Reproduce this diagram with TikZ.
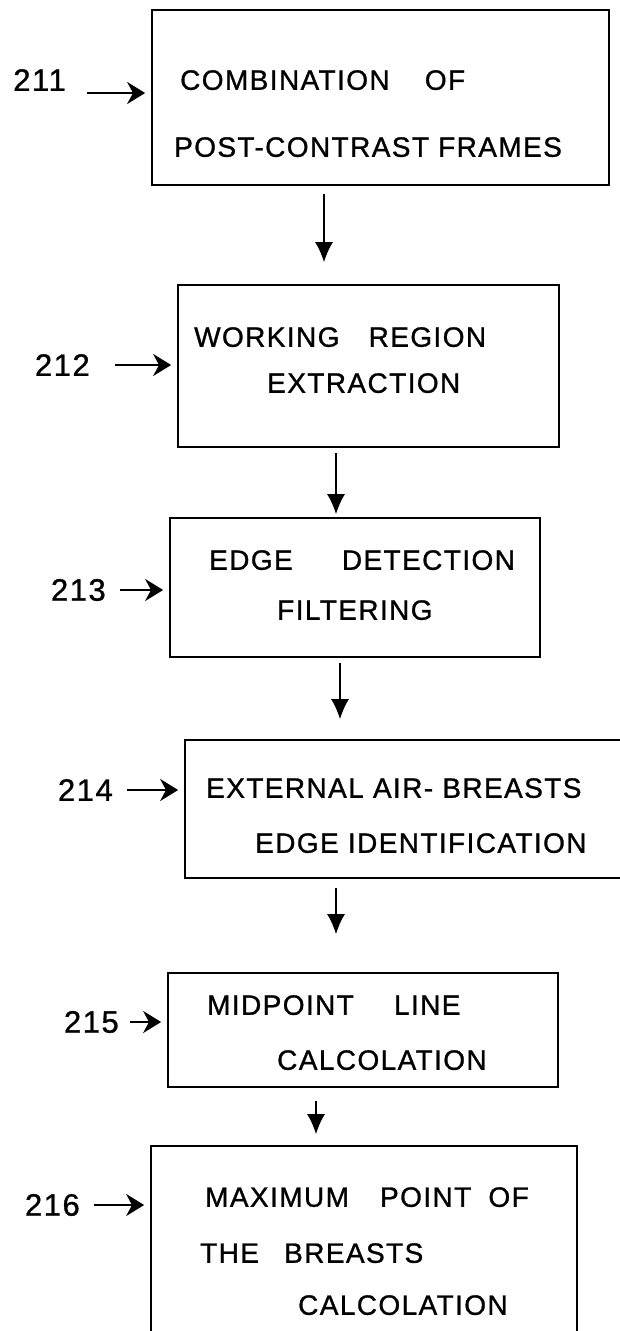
\documentclass[tikz,border=0pt]{standalone}
\usepackage{fontspec}
\setmainfont{Liberation Sans}[LetterSpace=5, FakeBold=1]
\usetikzlibrary{arrows.meta}

\begin{document}
\begin{tikzpicture}[
        x=1pt, y=-1pt,
        stepbox/.style={rectangle, draw, line width=1.7pt, inner sep=0pt},
        steptext/.style={anchor=north west, align=left, inner sep=0pt, font=\fontsize{28}{34}\selectfont},
        refnum/.style={anchor=east, inner sep=0pt, font=\fontsize{31}{36}\selectfont},
        flow/.style={-{Latex[length=20pt, width=18pt]}, line width=1.5pt},
        tag/.style={-{Stealth[length=18pt, width=22pt]}, line width=2.2pt, shorten <=15pt, shorten >=6pt}
    ]
        \useasboundingbox (0,0) rectangle (620,1331);

        % Boxes
        \node (b1) [stepbox, minimum width=457pt, minimum height=175pt] at (380.5,97.5) {};
        \node (b2) [stepbox, minimum width=381pt, minimum height=162pt] at (368.5,366) {};
        \node (b3) [stepbox, minimum width=370pt, minimum height=139pt] at (355,587.5) {};
        \node (b4) [stepbox, minimum width=440pt, minimum height=138pt] at (405,809) {};
        \node (b5) [stepbox, minimum width=390pt, minimum height=114pt] at (363,1030) {};
        \node (b6) [stepbox, minimum width=426pt, minimum height=186pt] at (364,1239) {};

        % Box texts
        \node (t1) [steptext] at (174,70) {\hspace*{6pt}COMBINATION\hspace{26pt} OF\\[33pt]POST-CONTRAST FRAMES};
        \node (t2) [steptext] at (194,327) {WORKING\hspace{20pt} REGION\\[12pt]\hspace*{73pt}EXTRACTION};
        \node (t3) [steptext] at (209,550) {EDGE\hspace{40pt} DETECTION\\[16pt]\hspace*{68pt}FILTERING};
        \node (t4) [steptext] at (206,778) {EXTERNAL AIR- BREASTS\\[21pt]\hspace*{49pt}EDGE IDENTIFICATION};
        \node (t5) [steptext] at (207,995) {MIDPOINT\hspace{31pt} LINE\\[21pt]\hspace*{70pt}CALCOLATION};
        \node (t6) [steptext] at (200,1187) {\hspace*{5pt}MAXIMUM\hspace{22pt} POINT\hspace{8pt} OF\\[22pt]THE\hspace{16pt} BREASTS\\[18pt]\hspace*{98pt}CALCOLATION};

        % Reference numbers
        \node (n1) [refnum] at (66,80) {211};
        \node (n2) [refnum] at (90,365) {212};
        \node (n3) [refnum] at (106,590) {213};
        \node (n4) [refnum] at (113,790) {214};
        \node (n5) [refnum] at (119,1022) {215};
        \node (n6) [refnum] at (80,1205) {216};

        \draw [tag, shorten <=21pt] ([yshift=-13pt]n1.east) -- ([yshift=-13pt]n1.east -| b1.west);
        \draw [tag, shorten <=25pt] (n2) -- (n2 -| b2.west);
        \draw [tag, shorten <=14pt] (n3) -- (n3 -| b3.west);
        \draw [tag, shorten <=14pt] (n4) -- (n4 -| b4.west);
        \draw [tag, shorten <=11pt] (n5) -- (n5 -| b5.west);
        \draw [tag, shorten <=14pt] (n6) -- (n6 -| b6.west);

        % Arrows
        \draw [flow, shorten <=8pt, shorten >=22pt] (b1.south -| 324,0) -- (b2.north -| 324,0);
        \draw [flow, shorten <=5pt, shorten >=3pt] (b2.south -| 336,0) -- (b3.north -| 336,0);
        \draw [flow, shorten <=5pt, shorten >=20pt] (b3.south -| 340,0) -- (b4.north -| 340,0);
        \draw [flow, shorten <=9pt, shorten >=38pt] (b4.south -| 336,0) -- (b5.north -| 336,0);
        \draw [flow, shorten <=13pt, shorten >=11pt] (b5.south -| 316,0) -- (b6.north -| 316,0);
    \end{tikzpicture}
\end{document}
